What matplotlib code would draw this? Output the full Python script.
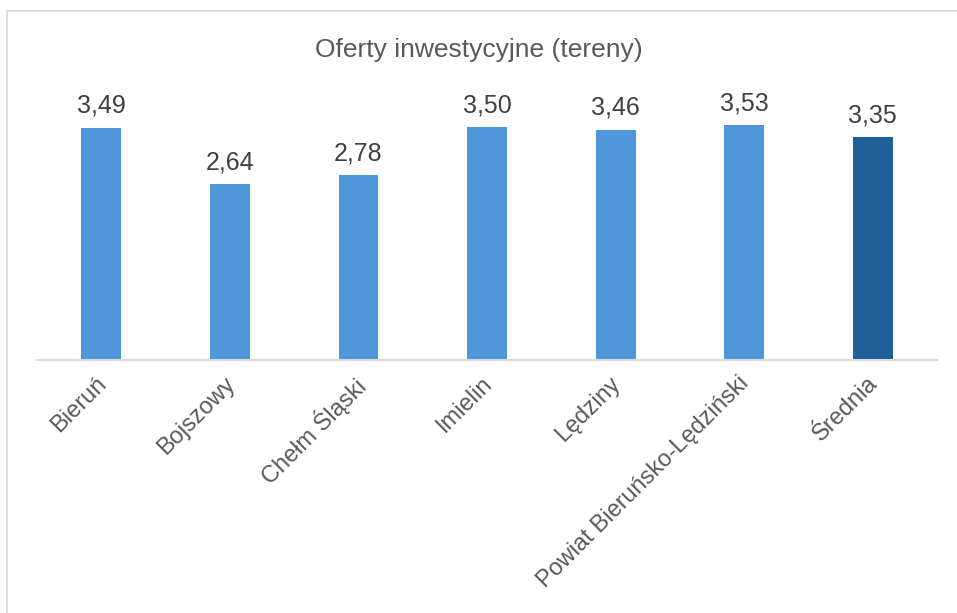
import matplotlib.pyplot as plt
import matplotlib.transforms as mtransforms
from matplotlib.patches import Rectangle

plt.rcParams['font.family'] = ['Liberation Sans', 'DejaVu Sans']

categories = ['Bieruń', 'Bojszowy', 'Chełm Śląski', 'Imielin', 'Lędziny',
              'Powiat Bieruńsko-Lędziński', 'Średnia']
values = [3.49, 2.64, 2.78, 3.50, 3.46, 3.53, 3.35]
colors = ['#4F96DA'] * 6 + ['#20609A']

fig = plt.figure(figsize=(9.57, 6.13), dpi=100)
ax = fig.add_axes([37 / 957, 253 / 613, 900 / 957, 266 / 613])

x = range(len(categories))
bars = ax.bar(x, values, width=0.31, color=colors, zorder=2)
for b, v in zip(bars, values):
    ax.text(b.get_x() + b.get_width() / 2, v + 0.15, f'{v:.2f}'.replace('.', ','),
            ha='center', va='bottom', fontsize=18, color='#404040')

ax.set_xlim(-0.5, len(categories) - 0.5)
ax.set_ylim(0, 4)
ax.set_yticks([])
ax.set_xticks(list(x))
ax.set_xticklabels(categories, rotation=45, ha='right', rotation_mode='anchor',
                   fontsize=17, color='#595959')
ax.tick_params(axis='x', length=0, pad=9)
# nudge labels a bit left, like the original
offset = mtransforms.ScaledTranslation(-6 / 100, 0, fig.dpi_scale_trans)
for lbl in ax.get_xticklabels():
    lbl.set_transform(lbl.get_transform() + offset)
for s in ['top', 'right', 'left']:
    ax.spines[s].set_visible(False)
ax.spines['bottom'].set_color('#D9D9D9')
ax.spines['bottom'].set_linewidth(1.5)

fig.text(0.5, 1 - 50 / 613, 'Oferty inwestycyjne (tereny)', ha='center', va='center',
         fontsize=19, color='#595959')

fig.patches.append(Rectangle((7 / 957, -0.05), 1.1, 1 - 11 / 613 + 0.05,
                             transform=fig.transFigure, fill=False,
                             edgecolor='#D9D9D9', linewidth=1.2))

fig.savefig('out.png', dpi=100)
